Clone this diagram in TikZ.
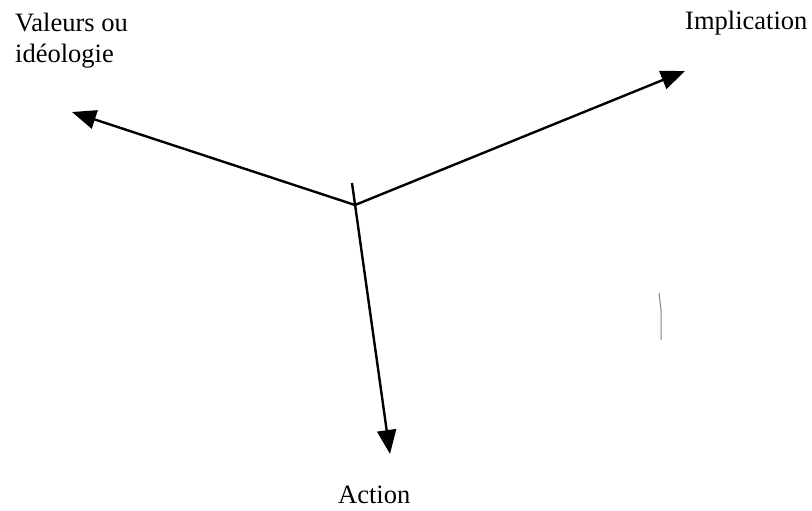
\documentclass[tikz,border=0pt]{standalone}
\usepackage{fontspec}
\setmainfont{Liberation Serif}
\usepackage{tikz}
\usetikzlibrary{arrows.meta}
\tikzset{x=1pt, y=-1pt, % one unit is one pixel of the picture
axe/.style={line width=2.4pt, -{Triangle[length=24pt, width=19pt]}}, % the three arrows
libelle/.style={inner sep=0pt, font=\fontsize{26.5}{31}\selectfont}, % the labels
}

\begin{document}
\begin{tikzpicture}
\useasboundingbox (0,0) rectangle (812,511);
\coordinate (centre) at (355,205);
\coordinate (haut) at (352,183);
\coordinate (pv) at (72,112);
\coordinate (pi) at (685,71);
\coordinate (pa) at (390,454);
\node[libelle, anchor=north west, align=left] (valeurs) at (15,13) {Valeurs ou\\idéologie};
\node[libelle, anchor=base west] (implication) at (685,30) {Implication};
\node[libelle, anchor=base west, text depth=0pt] (action) at (338,503) {Action};
\draw[axe] (centre) -- (pv);
\draw[axe] (centre) -- (pi);
\draw[axe] (haut) -- (pa);
% trace isolee a droite
\draw[gray, line width=1pt] (659,293) -- (661,310) -- (661,340);
\end{tikzpicture}
\end{document}
